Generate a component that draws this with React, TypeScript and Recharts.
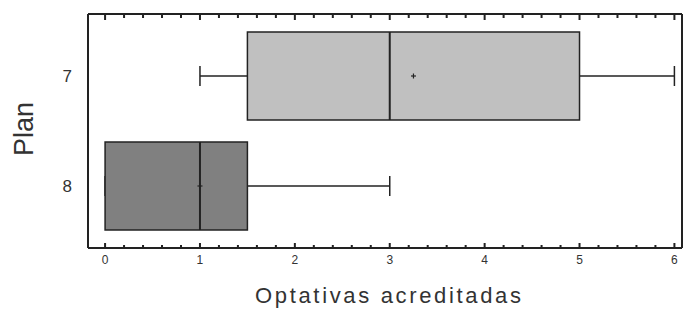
import { ComposedChart, Bar, XAxis, YAxis } from "recharts";

// box plot summary per plan
const plans = ["7", "8"];
const minValues = [1, 0];
const q1Values = [1.5, 0];
const medianValues = [3, 1];
const q3Values = [5, 1.5];
const maxValues = [6, 3];
const meanValues = [3.25, 1];

const majorTicks = [0, 1, 2, 3, 4, 5, 6];
const minorTicks = [
  0.2, 0.4, 0.6, 0.8, 1.2, 1.4, 1.6, 1.8, 2.2, 2.4, 2.6, 2.8, 3.2, 3.4, 3.6,
  3.8, 4.2, 4.4, 4.6, 4.8, 5.2, 5.4, 5.6, 5.8,
];
const axisTicks = [...majorTicks, ...minorTicks].sort((a, b) => a - b);

const boxFills = ["#c0c0c0", "#808080"];
const INK = "#222";
const DOMAIN: [number, number] = [-0.18, 6.08];
const TOP = 14;
const X_AXIS_H = 61;
const PLOT_H = 309 - TOP - X_AXIS_H;

const data = plans.map((plan, i) => ({
  plan,
  range: [minValues[i], maxValues[i]],
  min: minValues[i],
  q1: q1Values[i],
  median: medianValues[i],
  q3: q3Values[i],
  max: maxValues[i],
  mean: meanValues[i],
}));

const BoxShape = (props: any) => {
  const { x, y, width, height, payload, index } = props;
  const p = payload;
  // map a value inside [min, max] to pixels using the bar's own extent
  const px = (v: number) => x + (width * (v - p.min)) / (p.max - p.min);
  const cy = y + height / 2;
  const cap = 10;
  const mx = px(p.mean);
  return (
    <g stroke={INK} strokeWidth={1.5}>
      <line x1={px(p.min)} x2={px(p.q1)} y1={cy} y2={cy} />
      <line x1={px(p.q3)} x2={px(p.max)} y1={cy} y2={cy} />
      <line x1={px(p.min)} x2={px(p.min)} y1={cy - cap} y2={cy + cap} />
      <line x1={px(p.max)} x2={px(p.max)} y1={cy - cap} y2={cy + cap} />
      <rect
        x={px(p.q1)}
        y={y}
        width={px(p.q3) - px(p.q1)}
        height={height}
        fill={boxFills[index % boxFills.length]}
      />
      <line x1={px(p.median)} x2={px(p.median)} y1={y} y2={y + height} strokeWidth={2} />
      <line x1={mx - 2.5} x2={mx + 2.5} y1={cy} y2={cy} strokeWidth={1.2} />
      <line x1={mx} x2={mx} y1={cy - 2.5} y2={cy + 2.5} strokeWidth={1.2} />
    </g>
  );
};

const isMajor = (v: number) => Math.abs(v - Math.round(v)) < 1e-6;

// inward ticks on the bottom frame and the matching ones on the top frame
const FrameTick = (props: any) => {
  const { x, y, payload } = props;
  const v = payload.value;
  const major = isMajor(v);
  const len = major ? 5 : 3;
  const by = Number(y);
  const ty = by - PLOT_H;
  return (
    <g>
      <rect x={Number(x) - 1} y={by - len} width={2} height={len} fill={INK} />
      <rect x={Number(x) - 1} y={ty} width={2} height={len + 1} fill={INK} />
      {major && (
        <text x={x} y={by + 16} textAnchor="middle" fontSize={12} fill="#333"
          fontFamily="Liberation Sans, Arial, sans-serif">
          {v}
        </text>
      )}
    </g>
  );
};

const PlanTick = (props: any) => {
  const { y, payload } = props;
  return (
    <text x={72} y={y + 6} textAnchor="end" fontSize={17} fill="#333"
      fontFamily="Liberation Sans, Arial, sans-serif">
      {payload.value}
    </text>
  );
};

export default function App() {
  return (
    <div style={{ position: "absolute", left: 0, top: 0, background: "#fff" }}>
      <ComposedChart
        width={683}
        height={309}
        data={data}
        layout="vertical"
        margin={{ top: TOP - 1, right: 0, bottom: 0, left: 0 }}
      >
        <XAxis
          xAxisId="b"
          type="number"
          domain={DOMAIN}
          ticks={axisTicks}
          interval={0}
          allowDataOverflow
          height={X_AXIS_H}
          tickSize={0}
          tickMargin={0}
          tickLine={false}
          axisLine={{ stroke: INK, strokeWidth: 2 }}
          tick={<FrameTick />}
          label={{
            content: () => (
              <text x={388} y={303} textAnchor="middle" fontSize={22} fill="#333"
                textLength={266} lengthAdjust="spacing"
                fontFamily="Liberation Sans, Arial, sans-serif">
                Optativas acreditadas
              </text>
            ),
          }}
        />
        <XAxis
          xAxisId="t"
          orientation="top"
          type="number"
          domain={DOMAIN}
          allowDataOverflow
          height={1}
          tick={false}
          tickLine={false}
          axisLine={{ stroke: INK, strokeWidth: 2 }}
        />
        <YAxis
          yAxisId="l"
          type="category"
          dataKey="plan"
          width={88}
          padding={{ top: 7, bottom: 7 }}
          tickLine={false}
          tickSize={0}
          axisLine={{ stroke: INK, strokeWidth: 2 }}
          tick={<PlanTick />}
          label={{
            content: () => (
              <text x={33} y={129} transform="rotate(-90 33 129)" textAnchor="middle"
                fontSize={27} fill="#333" fontFamily="Liberation Sans, Arial, sans-serif">
                Plan
              </text>
            ),
          }}
        />
        <YAxis
          yAxisId="r"
          orientation="right"
          type="category"
          dataKey="plan"
          width={1}
          padding={{ top: 7, bottom: 7 }}
          tick={false}
          tickLine={false}
          axisLine={{ stroke: INK, strokeWidth: 2 }}
        />
        <Bar
          xAxisId="b"
          yAxisId="l"
          dataKey="range"
          barSize={88}
          shape={<BoxShape />}
          isAnimationActive={false}
        />
      </ComposedChart>
    </div>
  );
}
